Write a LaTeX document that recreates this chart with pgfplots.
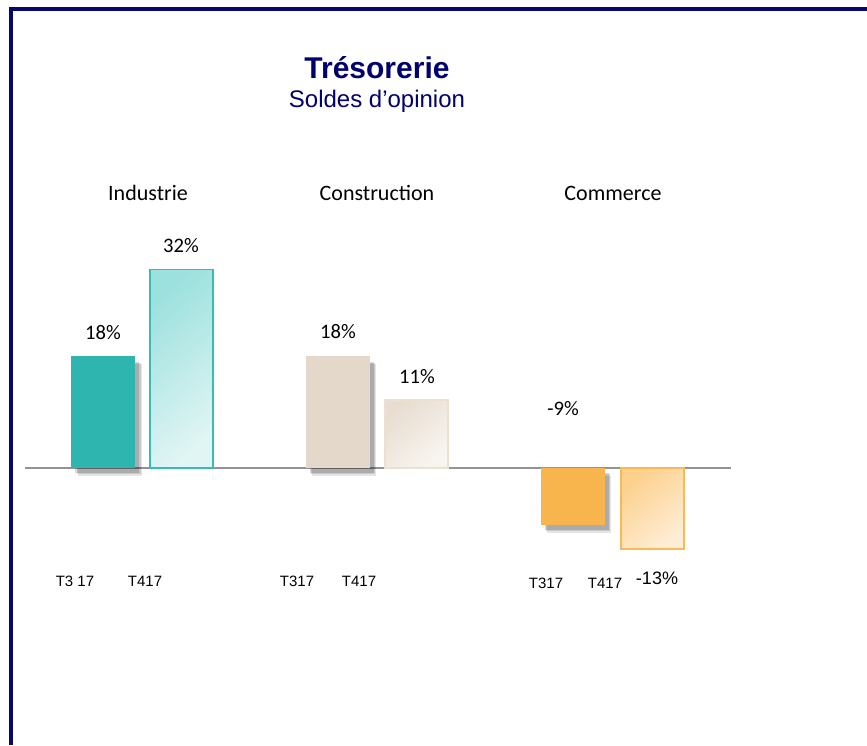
\documentclass[border=0pt]{standalone}
\usepackage{fontspec}
\setmainfont{Liberation Sans}
\newfontfamily\calibri{Carlito}
\usepackage{pgfplots}
\pgfplotsset{compat=1.18}
\usetikzlibrary{shadows}

\definecolor{frame}{RGB}{8,8,108}
\definecolor{titlenavy}{RGB}{0,0,110}
\definecolor{tealS}{RGB}{46,181,176}
\definecolor{tealA}{RGB}{157,225,222}
\definecolor{tealB}{RGB}{224,245,244}
\definecolor{tealE}{RGB}{58,186,180}
\definecolor{beigeS}{RGB}{227,216,202}
\definecolor{beigeA}{RGB}{232,221,208}
\definecolor{beigeB}{RGB}{248,245,241}
\definecolor{beigeE}{RGB}{236,224,208}
\definecolor{orS}{RGB}{248,181,77}
\definecolor{orA}{RGB}{253,208,140}
\definecolor{orB}{RGB}{254,237,214}
\definecolor{orE}{RGB}{248,186,88}

\tikzset{
  solidbar/.style={ybar, bar width=64, bar shift=0pt, draw=none, fill=#1,
    general shadow={shadow xshift=3.2pt, shadow yshift=-3.8pt, fill=black, opacity=0.10},
    general shadow={shadow xshift=2.6pt, shadow yshift=-3.2pt, fill=black, opacity=0.12},
    general shadow={shadow xshift=2pt, shadow yshift=-2.6pt, fill=black, opacity=0.15}},
  gradbar/.style n args={3}{ybar, bar width=63, bar shift=0pt, draw=#3, line width=0.8pt,
    top color=#1, bottom color=#2, shading angle=40},
}

\begin{document}
% 1 unit = 1 px of the reference, y measured upward from the bottom (745 px)
\begin{tikzpicture}[x=0.5pt,y=0.5pt]
\path[use as bounding box, fill=white] (0,0) rectangle (867,745);
\fill[frame] (9,738) rectangle (867,734);
\fill[frame] (9,738) rectangle (13,0);

\node[font=\fontsize{15}{17}\selectfont\bfseries, text=titlenavy] at (377,677) {Trésorerie};
\node[font=\fontsize{12}{14}\selectfont, text=titlenavy] at (377,644) {Soldes d’opinion};

\begin{axis}[
  at={(12.5pt,76.5pt)}, anchor=south west,
  scale only axis, width=353pt, height=186pt,
  xmin=25, xmax=731, ymin=-20, ymax=40,
  axis lines=none, clip=false,
]
\draw[gray!85, line width=0.7pt] (axis cs:25,0) -- (axis cs:731,0);
% Industrie
\addplot[solidbar=tealS] coordinates {(103.3,18)};
\addplot[gradbar={tealA}{tealB}{tealE}] coordinates {(181.5,32)};
% Construction
\addplot[solidbar=beigeS] coordinates {(338,18)};
\addplot[gradbar={beigeA}{beigeB}{beigeE}] coordinates {(416.5,11)};
% Commerce
\addplot[solidbar=orS] coordinates {(573,-9.2)};
\addplot[gradbar={orA}{orB}{orE}] coordinates {(652.5,-13.1)};
\end{axis}

\begin{scope}[every node/.style={font=\calibri\fontsize{11}{13}\selectfont}]
\node at (148,552) {Industrie};
\node at (377,552) {Construction};
\node at (613,552) {Commerce};
\end{scope}

\begin{scope}[every node/.style={font=\calibri\fontsize{10.3}{12}\selectfont}]
\node at (103,412) {18\%};
\node at (181,499) {32\%};
\node at (338,413) {18\%};
\node at (417,368) {11\%};
\node at (563,336) {-9\%};
\end{scope}
\node[font=\fontsize{9}{11}\selectfont] at (657,167) {-13\%};

\begin{scope}[every node/.style={font=\fontsize{7.5}{9}\selectfont}]
\node at (75,164) {T3 17};
\node at (145,164) {T417};
\node at (297,164) {T317};
\node at (359,164) {T417};
\node at (546,162) {T317};
\node at (605,162) {T417};
\end{scope}
\end{tikzpicture}
\end{document}
